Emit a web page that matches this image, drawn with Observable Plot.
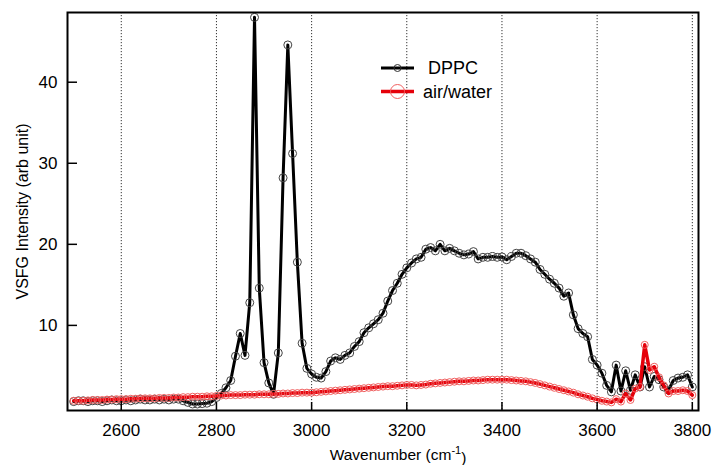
<!DOCTYPE html>
<html>
<head>
<meta charset="utf-8">
<script src="https://cdn.jsdelivr.net/npm/d3@7"></script>
<script src="https://cdn.jsdelivr.net/npm/@observablehq/plot@0.6"></script>
<style>
  html, body { margin: 0; padding: 0; background: #fff; }
  svg { display: block; }
</style>
</head>
<body>
<div id="chart"></div>
<script>
const wavenumber = [
  2500, 2510, 2520, 2530, 2540, 2550, 2560, 2570, 2580, 2590,
  2600, 2610, 2620, 2630, 2640, 2650, 2660, 2670, 2680, 2690,
  2700, 2710, 2720, 2730, 2740, 2750, 2760, 2770, 2780, 2790,
  2800, 2810, 2820, 2830, 2840, 2850, 2860, 2870, 2880, 2890,
  2900, 2910, 2920, 2930, 2940, 2950, 2960, 2970, 2980, 2990,
  3000, 3010, 3020, 3030, 3040, 3050, 3060, 3070, 3080, 3090,
  3100, 3110, 3120, 3130, 3140, 3150, 3160, 3170, 3180, 3190,
  3200, 3210, 3220, 3230, 3240, 3250, 3260, 3270, 3280, 3290,
  3300, 3310, 3320, 3330, 3340, 3350, 3360, 3370, 3380, 3390,
  3400, 3410, 3420, 3430, 3440, 3450, 3460, 3470, 3480, 3490,
  3500, 3510, 3520, 3530, 3540, 3550, 3560, 3570, 3580, 3590,
  3600, 3610, 3620, 3630, 3640, 3650, 3660, 3670, 3680, 3690,
  3700, 3710, 3720, 3730, 3740, 3750, 3760, 3770, 3780, 3790,
  3800
];

const dppc = [
  0.6, 0.7, 0.7, 0.6, 0.7, 0.7, 0.6, 0.7, 0.8, 0.7,
  0.7, 0.8, 0.7, 0.8, 0.9, 0.8, 0.8, 0.9, 0.8, 0.9,
  0.8, 0.9, 0.9, 0.7, 0.5, 0.3, 0.3, 0.35, 0.4, 0.6,
  1.1, 1.6, 2.3, 3.2, 6.2, 9.0, 6.3, 12.8, 48.0, 14.6,
  5.4, 2.9, 1.5, 6.6, 28.2, 44.6, 31.2, 17.8, 7.8, 4.7,
  4.0, 3.6, 3.5, 4.3, 5.6, 6.0, 5.8, 6.3, 6.6, 7.4,
  8.0, 9.1, 9.7, 10.2, 10.7, 11.5, 13.0, 14.3, 15.2, 16.3,
  17.1, 17.7, 18.2, 18.4, 19.4, 19.6, 19.2, 20.0, 19.2, 19.5,
  19.2, 18.9, 18.7, 18.8, 19.1, 18.2, 18.4, 18.4, 18.5, 18.4,
  18.45, 18.1, 18.5, 18.9, 18.9, 18.6, 18.2, 17.8, 16.9, 16.3,
  15.7, 15.2, 14.6, 13.6, 14.0, 11.3, 9.6, 9.0, 8.6, 5.8,
  5.1, 4.1, 2.6, 1.8, 5.1, 1.9, 4.4, 2.0, 3.9, 2.4,
  4.9, 2.4, 3.7, 3.3, 2.4, 2.0, 3.2, 3.5, 3.6, 3.9,
  2.4
];

const airWater = [
  0.7, 0.7, 0.7, 0.75, 0.8, 0.8, 0.8, 0.85, 0.85, 0.9,
  0.9, 0.9, 0.95, 0.95, 1.0, 1.0, 1.0, 1.0, 1.05, 1.05,
  1.05, 1.1, 1.1, 1.15, 1.15, 1.2, 1.2, 1.2, 1.25, 1.25,
  1.3, 1.35, 1.35, 1.4, 1.4, 1.4, 1.45, 1.45, 1.45, 1.5,
  1.5, 1.5, 1.55, 1.55, 1.6, 1.6, 1.65, 1.65, 1.7, 1.7,
  1.7, 1.75, 1.8, 1.85, 1.9, 1.95, 2.0, 2.05, 2.1, 2.15,
  2.2, 2.25, 2.3, 2.35, 2.4, 2.45, 2.5, 2.5, 2.55, 2.6,
  2.65, 2.65, 2.6, 2.65, 2.7, 2.8, 2.85, 2.9, 2.95, 3.0,
  3.05, 3.1, 3.1, 3.15, 3.2, 3.2, 3.25, 3.3, 3.3, 3.3,
  3.3, 3.3, 3.25, 3.2, 3.15, 3.1, 3.0, 2.9, 2.75, 2.6,
  2.45, 2.3, 2.15, 2.0, 1.85, 1.7, 1.5, 1.35, 1.2, 1.0,
  0.85, 0.7, 0.6, 0.5, 0.9, 0.6, 1.6, 0.8, 2.2, 2.4,
  7.6, 4.5, 4.9, 3.6, 2.6, 1.6, 1.9, 1.9, 2.0, 1.9,
  1.4
];

const xTicks = [2600, 2800, 3000, 3200, 3400, 3600, 3800];
const yTicks = [10, 20, 30, 40];
const seriesNames = ["DPPC", "air/water"];
const xLabel = "Wavenumber (cm";
const xLabelSup = "-1";
const yLabel = "VSFG Intensity (arb unit)";

const dppcData = wavenumber.map((w, i) => ({w, v: dppc[i]}));
const airData = wavenumber.map((w, i) => ({w, v: airWater[i]}));

const W = 712, H = 465;
const mL = 67, mR = 14, mT = 12, mB = 55;
const frameW = W - mL - mR, frameH = H - mT - mB;
const FONT = "'Liberation Sans', Arial, Helvetica, sans-serif";

const plot = Plot.plot({
  width: W,
  height: H,
  marginLeft: mL,
  marginRight: mR,
  marginTop: mT,
  marginBottom: mB,
  style: {fontFamily: FONT, color: "#000", background: "#fff"},
  x: {domain: [2487, 3813]},
  y: {domain: [-0.5, 48.6]},
  marks: [
    Plot.ruleX(xTicks, {x: d => d, stroke: "#333", strokeWidth: 1, strokeDasharray: "1.2,1.8"}),
    Plot.line(dppcData, {x: "w", y: "v", stroke: "#000", strokeWidth: 3, strokeLinejoin: "round"}),
    Plot.dot(dppcData, {x: "w", y: "v", r: 4, stroke: "#444", strokeWidth: 1, fill: "none"}),
    Plot.line(airData, {x: "w", y: "v", stroke: "#e5000a", strokeWidth: 3.5, strokeLinejoin: "round"}),
    Plot.dot(airData, {x: "w", y: "v", r: 3.5, stroke: "#f06060", strokeWidth: 1, fill: "none"}),
    Plot.frame({stroke: "#000", strokeWidth: 2}),
    Plot.tickX(xTicks, {x: d => d, insetTop: frameH - 8, stroke: "#000", strokeWidth: 1.5}),
    Plot.tickY(yTicks, {y: d => d, insetRight: frameW - 10, stroke: "#000", strokeWidth: 1.5}),
    Plot.axisX({ticks: xTicks, tickSize: 0, tickPadding: 13, fontSize: 17, label: null, tickFormat: d => String(d)}),
    Plot.axisY({ticks: yTicks, tickSize: 0, tickPadding: 10, fontSize: 17, label: null, tickFormat: d => String(d)}),
    Plot.text([yLabel], {frameAnchor: "left", textAnchor: "middle", rotate: -90, dx: -45, fontSize: 16, lineAnchor: "middle", text: d => d}),
    Plot.text([xLabel], {frameAnchor: "bottom", textAnchor: "middle", dy: 45, dx: 15, fontSize: 15.5, lineAnchor: "middle", text: d => d, className: "xlabel"})
  ]
});

document.getElementById("chart").appendChild(plot);

// add superscript to x label
const svg = d3.select(plot);
svg.selectAll(".xlabel text").each(function() {
  const t = d3.select(this);
  const txt = t.text();
  t.text(null);
  t.append("tspan").text(txt);
  t.append("tspan").attr("dy", "-0.55em").attr("font-size", 11).text(xLabelSup);
  t.append("tspan").attr("dy", "0.55em").text(")");
});

// legend
const lg = svg.append("g").attr("font-family", FONT).attr("font-size", 18).attr("text-anchor", "start");
const legendRows = [
  {name: seriesNames[0], y: 68, stroke: "#000", sw: 3, r: 3.5, mstroke: "#333", tx: 428},
  {name: seriesNames[1], y: 91.5, stroke: "#e5000a", sw: 3.5, r: 7, mstroke: "#f06060", tx: 423}
];
legendRows.forEach(row => {
  lg.append("line").attr("x1", 381).attr("x2", 414).attr("y1", row.y).attr("y2", row.y)
    .attr("stroke", row.stroke).attr("stroke-width", row.sw);
  lg.append("circle").attr("cx", 397.5).attr("cy", row.y).attr("r", row.r)
    .attr("fill", "none").attr("stroke", row.mstroke).attr("stroke-width", 1);
  lg.append("text").attr("x", row.tx).attr("y", row.y).attr("dy", "0.35em")
    .attr("text-anchor", "start").text(row.name);
});
</script>
</body>
</html>
